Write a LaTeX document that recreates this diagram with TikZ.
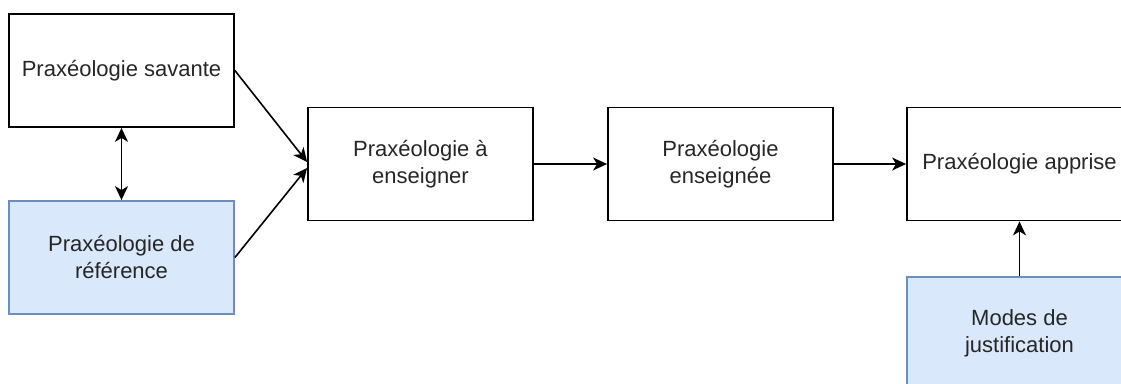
\documentclass[tikz,border=0pt]{standalone}
\usepackage{fontspec}
\setmainfont{Liberation Sans}
\usetikzlibrary{arrows.meta}
\definecolor{refblue}{HTML}{DAE8FC}
\definecolor{refedge}{HTML}{6C8EBF}
\tikzset{
  praxbox/.style={draw=black, line width=1.8pt, minimum width=225pt, minimum height=113pt, inner sep=0pt, align=center, text=black!85, font=\fontsize{22}{27}\selectfont},
  bluebox/.style={praxbox, fill=refblue, draw=refedge},
  flow/.style={line width=1.6pt, -{Stealth[length=14pt,width=13pt,inset=4pt]}},
  flowboth/.style={line width=1.6pt, {Stealth[length=14pt,width=13pt,inset=4pt]}-{Stealth[length=14pt,width=13pt,inset=4pt]}},
}
\begin{document}
\begin{tikzpicture}[x=1pt, y=-1pt]
			%%%%% START %%%%%
			\clip (0, 0) rectangle (1121, 383);
			
			\node[praxbox] (sav) at (121.5, 70.5) {Praxéologie savante};
			\node[bluebox] (ref) at (121.5, 257.5) {Praxéologie de\\référence};
			
			\node[praxbox] (ens) at (420.5, 164) {Praxéologie à\\enseigner};
			\node[praxbox] (ensg) at (720.5, 164) {Praxéologie\\enseignée};
			\node[praxbox] (app) at (1019.5, 164) {Praxéologie apprise};
			
			\node[bluebox] (mod) at (1019.5, 333.5) {Modes de\\justification};
			
			\draw[flowboth] (sav.south) -- (ref.north);
			\draw[flow] (sav.east) -- ([yshift=2pt]ens.west);
			\draw[flow] (ref.east) -- ([yshift=-4pt]ens.west);
			
			\draw[flow] (ens.east) -- (ensg.west);
			\draw[flow] (ensg.east) -- (app.west);
			\draw[flow] (mod.north) -- (app.south);
			
			%%%%% END %%%%%
\end{tikzpicture}
\end{document}
